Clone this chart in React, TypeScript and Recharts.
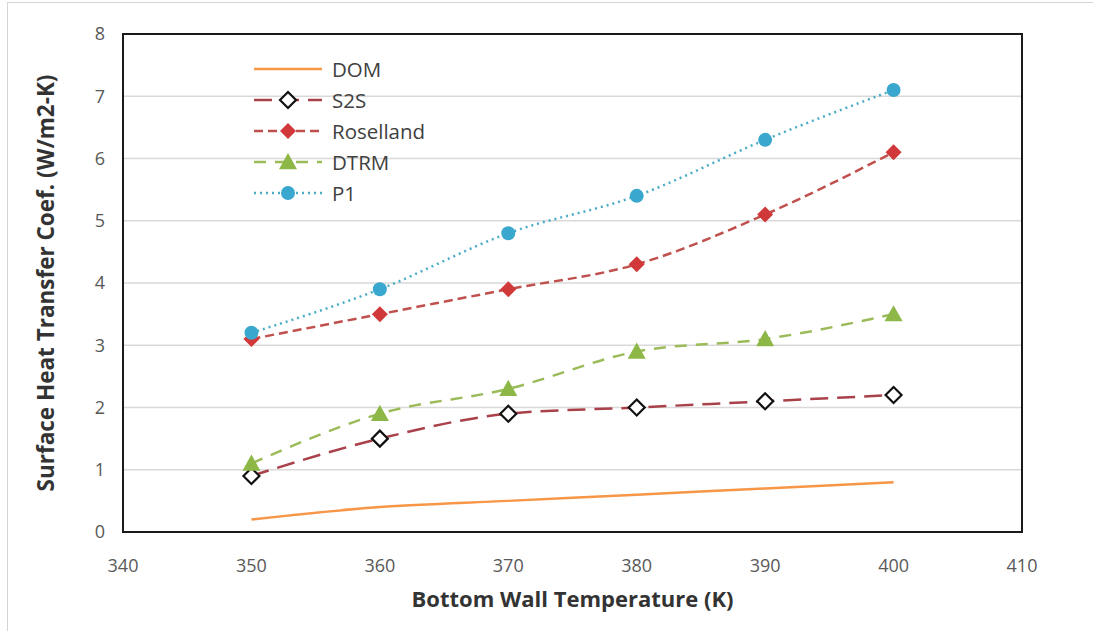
import {
  LineChart,
  Line,
  XAxis,
  YAxis,
  CartesianGrid,
  ReferenceArea,
  Legend,
  Label,
} from 'recharts'

// Bottom wall temperature (K)
const temps = [350, 360, 370, 380, 390, 400]

// Surface heat transfer coefficient (W/m2-K) per radiation model
const dom = [0.2, 0.4, 0.5, 0.6, 0.7, 0.8]
const s2s = [0.9, 1.5, 1.9, 2.0, 2.1, 2.2]
const rosseland = [3.1, 3.5, 3.9, 4.3, 5.1, 6.1]
const dtrm = [1.1, 1.9, 2.3, 2.9, 3.1, 3.5]
const p1 = [3.2, 3.9, 4.8, 5.4, 6.3, 7.1]

const xTicks = [340, 350, 360, 370, 380, 390, 400, 410]
const yTicks = [0, 1, 2, 3, 4, 5, 6, 7, 8]

const data = temps.map((t, i) => ({
  t,
  dom: dom[i],
  s2s: s2s[i],
  rosseland: rosseland[i],
  dtrm: dtrm[i],
  p1: p1[i],
}))

const FONT = '"Open Sans", Lato, sans-serif'
const TICK_COLOR = '#595959'

type Marker = 'none' | 'hollowDiamond' | 'diamond' | 'triangle' | 'circle'

const SERIES: { key: string; name: string; color: string; dash?: string; marker: Marker; markerColor?: string }[] = [
  { key: 'dom', name: 'DOM', color: '#F79646', marker: 'none' },
  { key: 's2s', name: 'S2S', color: '#A9414A', dash: '18 9', marker: 'hollowDiamond' },
  { key: 'rosseland', name: 'Roselland', color: '#C0504D', dash: '9 5', marker: 'diamond', markerColor: '#D0383A' },
  { key: 'dtrm', name: 'DTRM', color: '#9BBB59', dash: '12 9', marker: 'triangle', markerColor: '#8DB848' },
  { key: 'p1', name: 'P1', color: '#4BACC6', dash: '2 4', marker: 'circle', markerColor: '#3AA8CE' },
]

const MarkerShape = ({ kind, cx, cy, color }: { kind: Marker; cx: number; cy: number; color: string }) => {
  if (kind === 'hollowDiamond') {
    const r = 8
    return (
      <path
        d={`M${cx},${cy - r}L${cx + r},${cy}L${cx},${cy + r}L${cx - r},${cy}Z`}
        fill="#fff"
        stroke="#111"
        strokeWidth={2.2}
      />
    )
  }
  if (kind === 'diamond') {
    const r = 8
    return <path d={`M${cx},${cy - r}L${cx + r},${cy}L${cx},${cy + r}L${cx - r},${cy}Z`} fill={color} />
  }
  if (kind === 'triangle') {
    const r = 9
    return <path d={`M${cx},${cy - r}L${cx + r},${cy + r * 0.8}L${cx - r},${cy + r * 0.8}Z`} fill={color} />
  }
  if (kind === 'circle') {
    return <circle cx={cx} cy={cy} r={7} fill={color} />
  }
  return null
}

const LegendBox = () => (
  <div style={{ position: 'absolute', left: 252, top: 54, fontFamily: FONT, fontSize: 20.5, color: '#404040' }}>
    {SERIES.map(s => (
      <div key={s.key} style={{ display: 'flex', alignItems: 'center', height: 30.8 }}>
        <svg width={72} height={20} style={{ marginRight: 8 }}>
          <line x1={2} y1={10} x2={70} y2={10} stroke={s.color} strokeWidth={2.5} strokeDasharray={s.dash} />
          <MarkerShape kind={s.marker} cx={36} cy={10} color={s.markerColor ?? s.color} />
        </svg>
        <span>{s.name}</span>
      </div>
    ))}
  </div>
)

export default function App() {
  return (
    <div
      style={{
        position: 'absolute',
        left: 0,
        top: 0,
        width: 1093,
        height: 631,
        background: '#fff',
      }}
    >
      {/* outer chart frame */}
      <div
        style={{
          position: 'absolute',
          left: 7,
          top: 2,
          right: 0,
          bottom: 0,
          borderTop: '1px solid #d4d4d4',
          borderLeft: '1px solid #d4d4d4',
        }}
      />
      <LineChart
        width={1093}
        height={631}
        data={data}
        margin={{ top: 34, right: 71, bottom: 69, left: 63 }}
        style={{ position: 'absolute', left: 0, top: 0 }}
      >
        <CartesianGrid vertical={false} stroke="#d9d9d9" strokeWidth={1.5} />
        <XAxis
          dataKey="t"
          type="number"
          domain={[340, 410]}
          ticks={xTicks}
          axisLine={false}
          tickLine={false}
          tickMargin={21}
          height={30}
          tick={{ fontSize: 18, fill: TICK_COLOR, fontFamily: FONT }}
        >
          <Label
            value="Bottom Wall Temperature (K)"
            position="bottom"
            offset={29}
            style={{ fontSize: 22, fontWeight: 700, fill: '#333', fontFamily: FONT }}
          />
        </XAxis>
        <YAxis
          type="number"
          domain={[0, 8]}
          ticks={yTicks}
          axisLine={false}
          tickLine={false}
          tickMargin={12}
          width={60}
          tick={{ fontSize: 18, fill: TICK_COLOR, fontFamily: FONT }}
        >
          <Label
            value="Surface Heat Transfer Coef. (W/m2-K)"
            angle={-90}
            position="left"
            offset={17}
            style={{ fontSize: 22.5, fontWeight: 700, fill: '#333', fontFamily: FONT, textAnchor: 'middle' }}
          />
        </YAxis>
        {/* plot area border */}
        <ReferenceArea x1={340} x2={410} y1={0} y2={8} fill="none" stroke="#1a1a1a" strokeWidth={2} />
        {SERIES.map(s => (
          <Line
            key={s.key}
            dataKey={s.key}
            name={s.name}
            type="monotone"
            stroke={s.color}
            strokeWidth={2.5}
            strokeDasharray={s.dash}
            isAnimationActive={false}
            dot={(p: any) => (
              <MarkerShape key={`${s.key}-${p.index}`} kind={s.marker} cx={p.cx} cy={p.cy} color={s.markerColor ?? s.color} />
            )}
            activeDot={false}
          />
        ))}
        <Legend content={() => <LegendBox />} wrapperStyle={{ position: 'absolute', left: 0, top: 0, width: 0, height: 0 }} />
      </LineChart>
    </div>
  )
}
